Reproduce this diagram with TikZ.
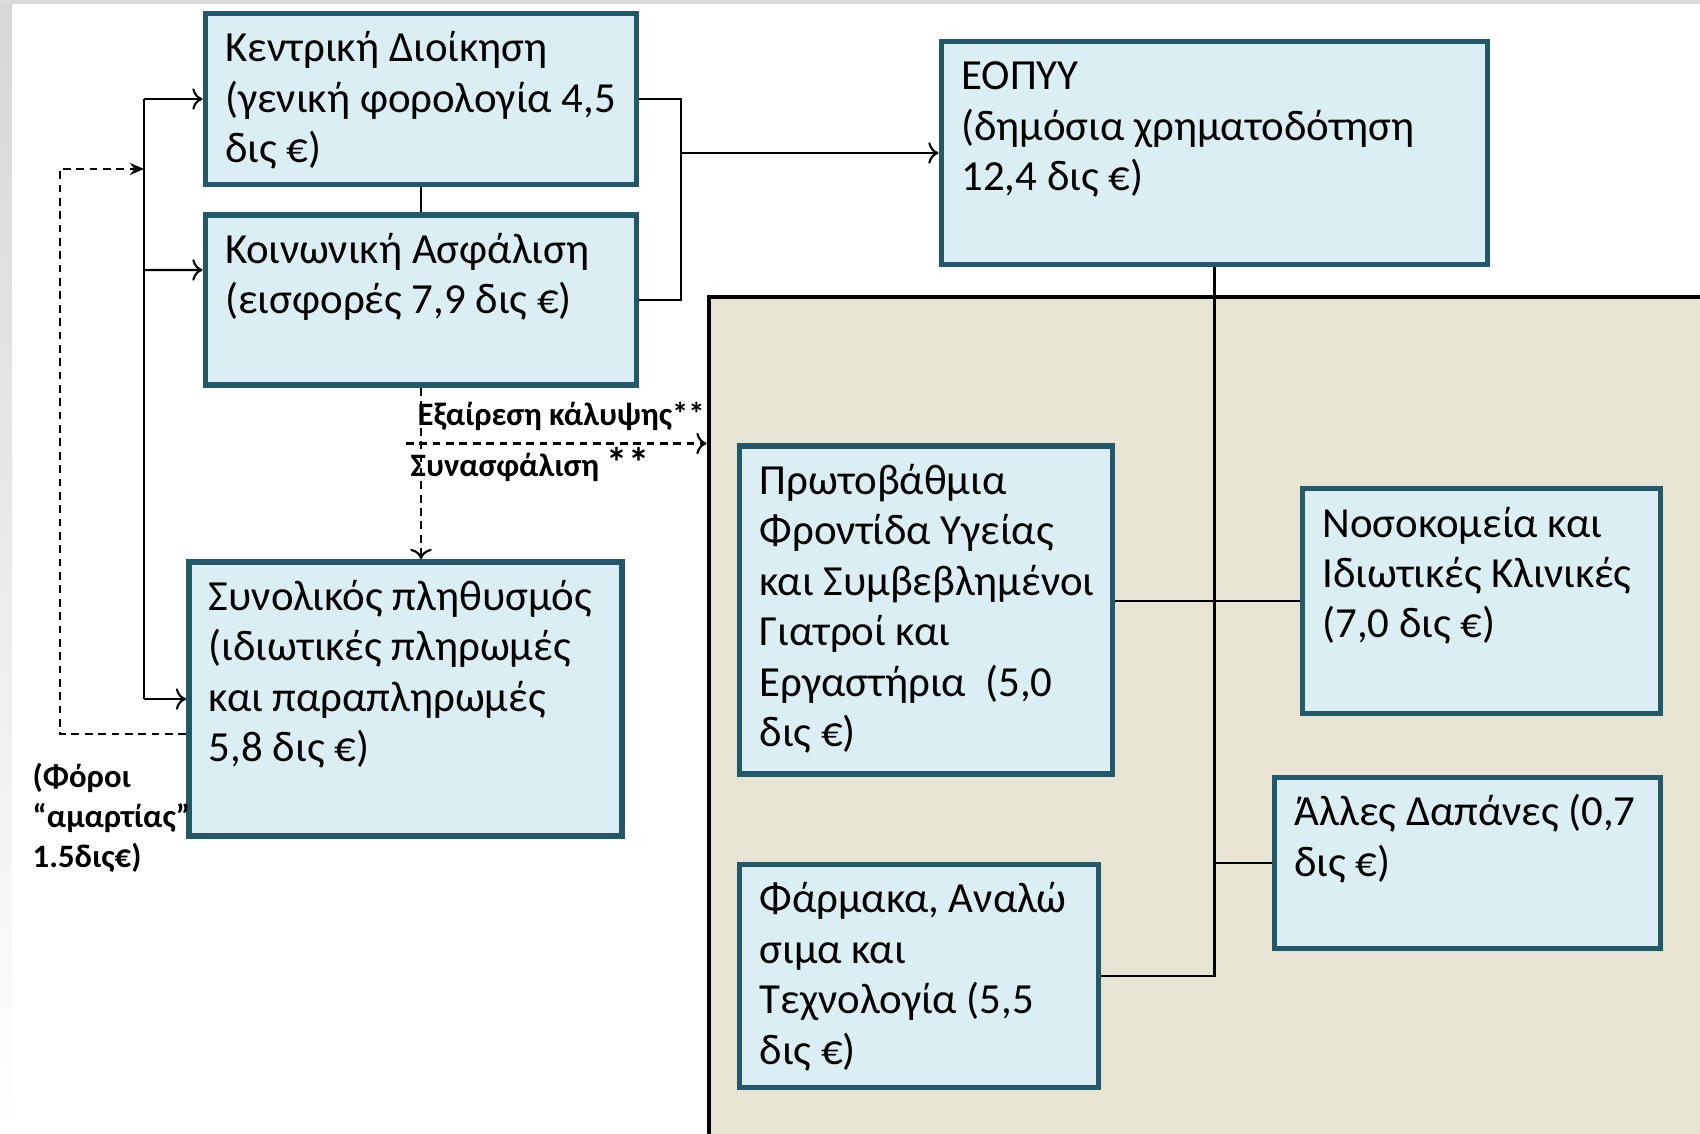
\documentclass[tikz,border=0pt]{standalone}
\usepackage{fontspec}
\setmainfont{Carlito}
\usetikzlibrary{arrows.meta}

\definecolor{boxfill}{HTML}{DAEEF3}
\definecolor{boxedge}{HTML}{22596A}
\definecolor{panelfill}{HTML}{E8E4D4}
\newcommand\cell[3]{\parbox[c][#2cm][t]{#1cm}{\begin{tabular}[t]{@{}l@{}}#3\end{tabular}}}

\tikzset{
  box/.style={draw=boxedge, fill=boxfill, line width=1.6pt,
    inner xsep=.2cm, inner ysep=.13cm, font=\fontsize{12.2}{14.35}\selectfont},
  panel/.style={draw=black, fill=panelfill, line width=1.2pt, inner sep=0pt},
  link/.style={line width=.6pt},
  dashline/.style={line width=.6pt, dash pattern=on 2.2pt off 1.6pt},
  note/.style={font=\fontsize{9.3}{11.4}\selectfont\bfseries, inner sep=0pt, align=left},
}

\begin{document}
\begin{tikzpicture}[x=.01cm,y=-.01cm]
\useasboundingbox (0,0) rectangle (1700,1134);
\shade[top color=black!16, bottom color=white] (0,0) rectangle (12,1134);
\fill[black!14] (0,0) rectangle (1700,4);

\node[panel, minimum width=10.11cm, minimum height=8.53cm] (pn) at (1214.5,723.5) {};

\node[box] (cd) at (421,99) {\cell{3.91}{1.45}{Κεντρική Διοίκηση\\(γενική φορολογία 4,5\\δις €)}};
\node[box] (ka) at (421,300) {\cell{3.91}{1.44}{Κοινωνική Ασφάλιση\\(εισφορές 7,9 δις €)}};
\node[box] (sp) at (405.5,699) {\cell{3.93}{2.48}{Συνολικός πληθυσμός\\(ιδιωτικές πληρωμές\\και παραπληρωμές\\5,8 δις €)}};
\node[box] (eo) at (1214.5,153) {\cell{5.06}{1.97}{ΕΟΠΥΥ\\(δημόσια χρηματοδότηση\\12,4 δις €)}};
\node[box] (pf) at (926,610) {\cell{3.325}{3.015}{Πρωτοβάθμια\\Φροντίδα Υγείας\\και Συμβεβλημένοι\\Γιατροί και\\Εργαστήρια~ (5,0\\δις €)}};
\node[box] (no) at (1481.5,601) {\cell{3.18}{1.985}{Νοσοκομεία και\\Ιδιωτικές Κλινικές\\(7,0 δις €)}};
\node[box] (ad) at (1467.5,863) {\cell{3.46}{1.45}{Άλλες Δαπάνες (0,7\\δις €)}};
\node[box] (fa) at (919,976) {\cell{3.185}{1.966}{Φάρμακα, Αναλώ\\σιμα και\\Τεχνολογία (5,5\\δις €)}};

\node[note, anchor=west] (ex) at (417,416) {Εξαίρεση κάλυψης**};
\node[note, anchor=west] (sy) at (410,467) {Συνασφάλιση};
\node[note, font=\fontsize{12}{12}\selectfont\bfseries] (st) at (628,462) {**};
\node[note, anchor=west] (fo) at (32,818) {(Φόροι\\“αμαρτίας”\\1.5δις€)};

\coordinate (bus) at (144,99);
\coordinate (fb) at (59.6,169);
\coordinate (br) at (681,153);
\coordinate (ds) at (406,443.5);

\draw[link] (bus) -- (bus |- sp.west);
\draw[link,->] (bus) -- (cd.west);
\draw[link,->] (bus |- ka.west) ++(0,-30) -- ([yshift=.3cm]ka.west);
\draw[link,->] (bus |- sp.west) -- (sp.west);
\draw[dashline,-{Stealth[length=4pt,width=3.4pt]}] ([yshift=-.35cm]sp.west) -| (fb) -- (bus |- fb);
\draw[link] (cd.south) -- (ka.north);
\draw[link] (cd.east) -| (br) |- (ka.east);
\draw[link,->] (br) -- (eo.west);
\draw[dashline,->] (ka.south) -- (ka.south |- sp.north);
\draw[dashline,->] (ds) -- (ds -| pn.west);
\draw[link] (eo.south) |- (fa.east);
\draw[link] (pf.east |- no.west) -- (no.west);
\draw[link] (eo.south |- ad.west) -- (ad.west);
\end{tikzpicture}
\end{document}
